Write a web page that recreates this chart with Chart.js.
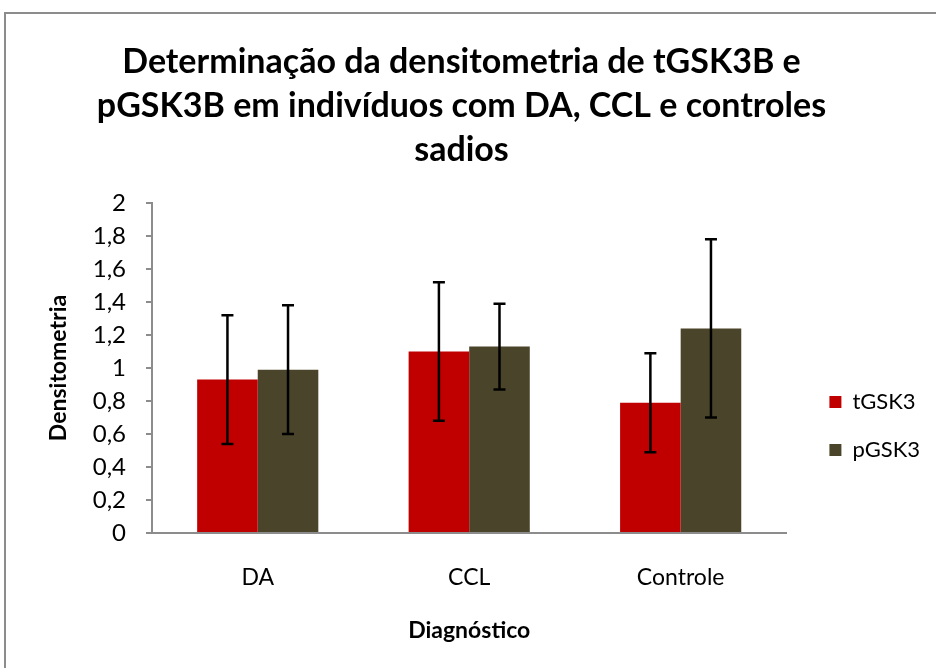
<!DOCTYPE html>
<html>
<head>
<meta charset="utf-8">
<script src="https://cdn.jsdelivr.net/npm/chart.js@4.4.1/dist/chart.umd.min.js"></script>
<style>
  html, body { margin: 0; padding: 0; background: #fff; }
  #wrap { position: relative; width: 936px; height: 668px; overflow: hidden; }
  #frame { position: absolute; left: 4px; top: 12px; width: 1000px; height: 1000px; border: 2px solid #8c8c8c; box-sizing: border-box; }
  canvas { position: absolute; left: 0; top: 0; }
</style>
</head>
<body>
<div id="wrap">
  <div id="frame"></div>
  <canvas id="graph" width="936" height="668"></canvas>
</div>
<script>
const categories = ['DA', 'CCL', 'Controle'];
const tGSK3 = [0.93, 1.10, 0.79];
const pGSK3 = [0.99, 1.13, 1.24];
const tGSK3Err = [0.39, 0.42, 0.30];
const pGSK3Err = [0.39, 0.26, 0.54];
const yTicks = ['0', '0,2', '0,4', '0,6', '0,8', '1', '1,2', '1,4', '1,6', '1,8', '2'];

const errors = [tGSK3Err, pGSK3Err];
const FONT = "Lato, 'Open Sans', sans-serif";

// error bars drawn from the y scale
const errorBars = {
    id: 'errorBars',
    afterDatasetsDraw(chart) {
        const ctx = chart.ctx;
        const y = chart.scales.y;
        ctx.save();
        ctx.strokeStyle = '#000';
        ctx.lineWidth = 2.5;
        chart.data.datasets.forEach((ds, i) => {
            const meta = chart.getDatasetMeta(i);
            meta.data.forEach((bar, j) => {
                const v = ds.data[j];
                const e = errors[i][j];
                const top = y.getPixelForValue(v + e);
                const bot = y.getPixelForValue(v - e);
                ctx.beginPath();
                ctx.moveTo(bar.x, top); ctx.lineTo(bar.x, bot);
                ctx.moveTo(bar.x - 6, top); ctx.lineTo(bar.x + 6, top);
                ctx.moveTo(bar.x - 6, bot); ctx.lineTo(bar.x + 6, bot);
                ctx.stroke();
            });
        });
        ctx.restore();
    }
};

// move legend down/right to where excel put it
const legendShift = {
    id: 'legendShift',
    afterLayout(chart) {
        const lg = chart.legend;
        lg.top += 58; lg.bottom += 58;
        lg.left += 17; lg.right += 17;
    }
};

const ctx = document.getElementById('graph').getContext('2d');
const chart = new Chart(ctx, {
    type: 'bar',
    data: {
        labels: categories,
        datasets: [
            { label: 'tGSK3', data: tGSK3, backgroundColor: '#C00000' },
            { label: 'pGSK3', data: pGSK3, backgroundColor: '#4A452A' }
        ]
    },
    options: {
        responsive: false,
        animation: false,
        layout: { padding: { left: 10, right: 23, top: 0, bottom: 0 } },
        datasets: { bar: { categoryPercentage: 0.573, barPercentage: 1 } },
        plugins: {
            title: {
                display: true,
                text: ['Determinação da densitometria de tGSK3B e',
                       'pGSK3B em indivíduos com DA, CCL e controles',
                       'sadios'],
                color: '#000',
                font: { family: FONT, size: 34, weight: 'bold', lineHeight: 1.294 },
                padding: { top: 40, bottom: 31 }
            },
            legend: {
                position: 'right',
                fullSize: false,
                labels: {
                    boxWidth: 12, boxHeight: 12, padding: 26,
                    color: '#000',
                    font: { family: FONT, size: 22 }
                }
            },
            tooltip: { enabled: false }
        },
        scales: {
            x: {
                afterFit(scale) { scale.height = 135; },
                grid: { display: false, drawTicks: false },
                border: { display: true, color: '#8c8c8c', width: 2 },
                ticks: { color: '#000', padding: 31, font: { family: FONT, size: 23 } },
                title: {
                    display: true, text: 'Diagnóstico', color: '#000',
                    font: { family: FONT, size: 23, weight: 'bold' },
                    padding: { top: 0, bottom: 24 }
                }
            },
            y: {
                min: 0, max: 2,
                afterFit(scale) { scale.width = 142; },
                grid: { display: true, drawOnChartArea: false, drawTicks: true, tickLength: 6, color: '#8c8c8c', lineWidth: 2 },
                border: { display: true, color: '#8c8c8c', width: 2 },
                ticks: {
                    stepSize: 0.2, padding: 20, color: '#000',
                    font: { family: FONT, size: 24 },
                    callback: (v, i) => yTicks[i]
                },
                title: {
                    display: true, text: 'Densitometria', color: '#000',
                    font: { family: FONT, size: 23, weight: 'bold' },
                    padding: { top: 35, bottom: 0 }
                }
            }
        }
    },
    plugins: [errorBars, legendShift]
});
</script>
</body>
</html>
